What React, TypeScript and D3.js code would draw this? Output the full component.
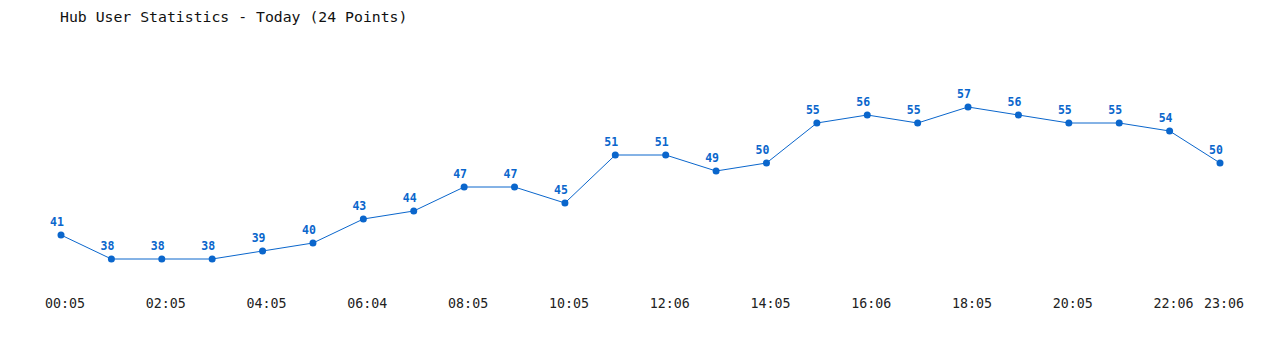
import React from "react";
import * as d3 from "d3";

const times = ["00:05","01:05","02:05","03:05","04:05","05:05","06:04","07:05","08:05","09:05","10:05","11:05","12:06","13:05","14:05","15:05","16:06","17:05","18:05","19:05","20:05","21:05","22:06","23:06"];
const users = [41,38,38,38,39,40,43,44,47,47,45,51,51,49,50,55,56,55,57,56,55,55,54,50];
const tickLabels = ["00:05","02:05","04:05","06:04","08:05","10:05","12:06","14:05","16:06","18:05","20:05","22:06","23:06"];

const W = 1280, H = 350;
const color = "#0a66cc";

export default function App() {
  const x = d3.scalePoint<string>().domain(times).range([53, 1212]);
  const y = d3.scaleLinear().domain([41, 57]).range([227, 99]);
  const line = d3.line<number>().x((_, i) => x(times[i])!).y(d => y(d));
  return (
    <svg width={W} height={H} style={{ position: "absolute", left: 0, top: 0, background: "#fff" }}>
      <text x={60} y={22} fontFamily="DejaVu Sans Mono" fontSize={14.8} fill="#111">Hub User Statistics - Today (24 Points)</text>
      <g transform="translate(8,8)">
        <path d={line(users)!} fill="none" stroke={color} strokeWidth={1} />
        {users.map((v, i) => (
          <g key={i}>
            <circle cx={x(times[i])} cy={y(v)} r={3.5} fill={color} />
            <text x={x(times[i])! - 4} y={y(v) - 9} textAnchor="middle" fontFamily="DejaVu Sans Mono" fontWeight="bold" fontSize={11.5} fill={color}>{v}</text>
          </g>
        ))}
        {tickLabels.map((t, i) => (
          <text key={i} x={x(t)! + 4} y={300} textAnchor="middle" fontFamily="DejaVu Sans Mono" fontSize={13.3} fill="#222">{t}</text>
        ))}
      </g>
    </svg>
  );
}
